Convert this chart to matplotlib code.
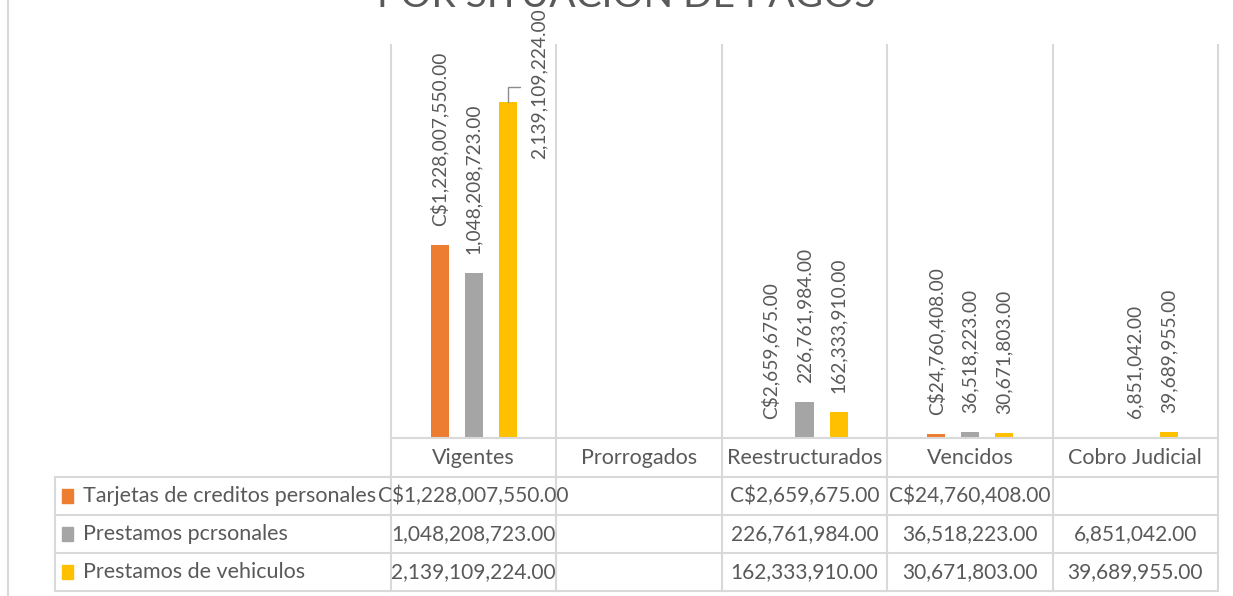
import numpy as np
import matplotlib
matplotlib.use("Agg")
import matplotlib.pyplot as plt
from matplotlib.patches import Rectangle

plt.rcParams["font.family"] = ["Lato", "DejaVu Sans"]

# ── data ──────────────────────────────────────────────────────────────────────
categories = ["Vigentes", "Prorrogados", "Reestructurados", "Vencidos", "Cobro Judicial"]
series_names = ["Tarjetas de creditos personales", "Prestamos pcrsonales", "Prestamos de vehiculos"]
tarjetas = [1228007550.00, np.nan, 2659675.00, 24760408.00, np.nan]
personales = [1048208723.00, np.nan, 226761984.00, 36518223.00, 6851042.00]
vehiculos = [2139109224.00, np.nan, 162333910.00, 30671803.00, 39689955.00]
prefixes = ["C$", "", ""]
title = "POR SITUACIÓN DE PAGOS"

colors = ["#ED7D31", "#A5A5A5", "#FFC000"]
TXT = "#595959"
GRID = "#D9D9D9"

# ── layout (pixels) ───────────────────────────────────────────────────────────
W, H = 1233, 596
PL, PR, PT, PB = 391, 1218, 45, 438
ROWS = [477, 515, 553, 591]
LEG_L = 55


def fmt(v, pre):
    return "" if np.isnan(v) else f"{pre}{v:,.2f}"


fig = plt.figure(figsize=(W / 100, H / 100), dpi=100)

ax = fig.add_axes([PL / W, 1 - PB / H, (PR - PL) / W, (PB - PT) / H])
ax.set_xlim(-0.5, len(categories) - 0.5)
ax.set_ylim(0, 2.5e9)
ax.axis("off")

x = np.arange(len(categories))
bw = 0.109
step = 0.206
all_series = [tarjetas, personales, vehiculos]
for i, (vals, c, pre) in enumerate(zip(all_series, colors, prefixes)):
    xi = x + (i - 1) * step
    v = np.array(vals, dtype=float)
    ax.bar(xi, np.nan_to_num(v), width=bw, color=c, zorder=3)
    for xx, vv in zip(xi, v):
        if np.isnan(vv):
            continue
        lab = fmt(vv, pre)
        if vv > 2.0e9:
            # label pushed aside with leader line (as Excel does near the top)
            ax.annotate("", xy=(xx, vv), xytext=(12, 15), textcoords="offset pixels",
                        arrowprops=dict(arrowstyle="-", color="#8C8C8C", lw=1,
                                        connectionstyle="angle,angleA=0,angleB=90,rad=0",
                                        shrinkA=0, shrinkB=0))
            ax.annotate(lab, xy=(xx, vv), xytext=(31, -57), textcoords="offset pixels",
                        rotation=90, ha="center", va="bottom", color=TXT,
                        fontsize=13.8, annotation_clip=False)
        else:
            ax.annotate(lab, xy=(xx, vv), xytext=(0, 19), textcoords="offset pixels",
                        rotation=90, ha="center", va="bottom", color=TXT,
                        fontsize=13.8, annotation_clip=False)

# ── data table + legend overlay ───────────────────────────────────────────────
tab = fig.add_axes([0, 0, 1, 1])
tab.set_xlim(0, W)
tab.set_ylim(H, 0)
tab.axis("off")

edges = PL + np.arange(len(categories) + 1) * (PR - PL) / len(categories)
centers = (edges[:-1] + edges[1:]) / 2

tab.plot([8, 8], [0, H], color=GRID, lw=1.5)
tab.plot([PL, PR], [PB, PB], color=GRID, lw=1.5)
for e in edges:
    tab.plot([e, e], [PT, ROWS[-1]], color=GRID, lw=1.5)
for r in ROWS:
    tab.plot([LEG_L, PR], [r, r], color=GRID, lw=1.5)
tab.plot([LEG_L, LEG_L], [ROWS[0], ROWS[-1]], color=GRID, lw=1.5)

for cx, cat in zip(centers, categories):
    tab.text(cx, (PB + ROWS[0]) / 2, cat, ha="center", va="center", color=TXT, fontsize=15.5)

for k, (name, vals, c, pre) in enumerate(zip(series_names, all_series, colors, prefixes)):
    yc = (ROWS[k] + ROWS[k + 1]) / 2
    tab.add_patch(Rectangle((62, yc - 7), 11, 14, color=c))
    tab.text(83, yc, name, ha="left", va="center", color=TXT, fontsize=15.5)
    for cx, v in zip(centers, vals):
        tab.text(cx, yc, fmt(v, pre), ha="center", va="center", color=TXT, fontsize=15)

fig.text(0.508, 1 - 7 / H, title, ha="center", va="baseline", color=TXT,
         fontsize=28)

fig.savefig("out.png", dpi=100)
